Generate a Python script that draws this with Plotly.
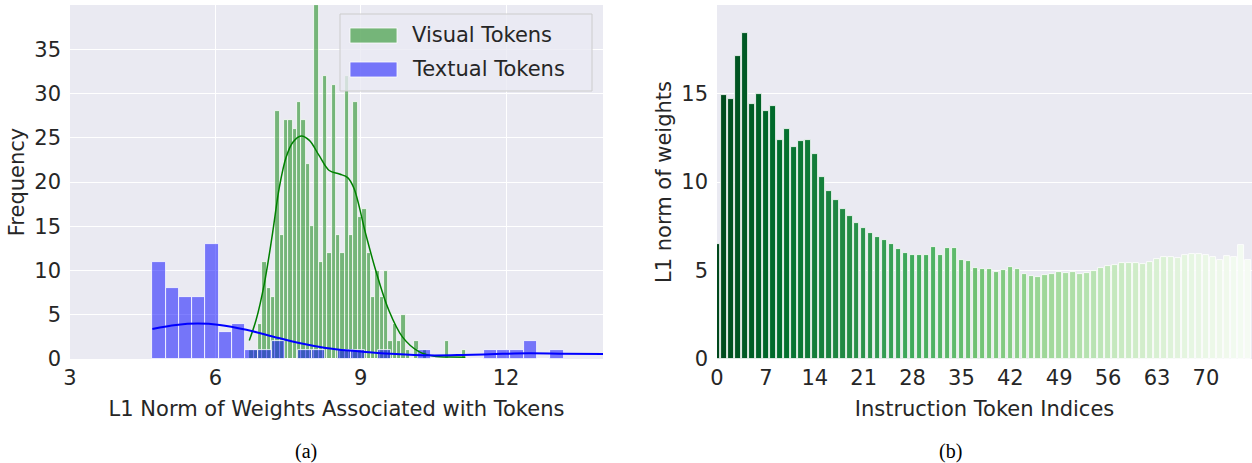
import numpy as np
import plotly.graph_objects as go
from plotly.colors import sample_colorscale, sequential

# ---- (a) histogram of L1 norms: visual vs textual tokens ----
VIS_BIN_START = 6.70
VIS_BIN_WIDTH = 0.0896
VIS_COUNTS = [1, 1, 4, 11, 8, 7, 28, 14, 27, 27,
              26, 29, 27, 22, 15, 40, 11, 32, 12, 31,
              14, 12, 32, 14, 29, 16, 17, 12, 7, 10,
              7, 10, 2, 4, 2, 5, 1, 0, 2, 0,
              1, 0, 0, 0, 0, 2, 0, 0, 0, 1]

TXT_BIN_START = 4.70
TXT_BIN_WIDTH = 0.2737
TXT_COUNTS = [11, 8, 7, 7, 13, 3, 4, 1, 1, 2,
              0, 1, 1, 0, 1, 1, 0, 1, 0, 0,
              1, 0, 0, 0, 0, 1, 1, 1, 2, 0, 1]

# kde curves (scaled to counts)
VIS_KDE_X = [6.70, 6.84, 7.01, 7.18, 7.32, 7.46, 7.60, 7.77, 7.94, 8.14, 8.35,
             8.56, 8.73, 8.86, 9.10, 9.31, 9.58, 9.86, 10.20, 10.55, 10.85, 11.16]
VIS_KDE_Y = [2.1, 4.4, 8.5, 14.2, 19.4, 22.8, 24.5, 25.2, 24.7, 23.0, 21.3,
             20.9, 20.5, 19.3, 14.2, 10.0, 5.5, 2.5, 0.83, 0.27, 0.22, 0.19]
TXT_KDE_X = [4.70, 5.19, 5.64, 6.09, 6.64, 7.18, 7.73, 8.28, 8.76, 9.04,
             9.72, 10.41, 11.09, 11.78, 12.47, 13.15, 14.0]
TXT_KDE_Y = [3.4, 3.85, 4.0, 3.85, 3.3, 2.55, 1.8, 1.25, 0.95, 0.83,
             0.56, 0.41, 0.45, 0.56, 0.64, 0.6, 0.56]

# ---- (b) L1 norm per instruction token ----
TOKEN_NORMS = [6.5, 14.9, 14.7, 17.1, 18.4, 14.4, 15.0, 14.0, 14.3, 12.4,
               13.0, 12.0, 12.3, 12.4, 11.6, 10.3, 9.5, 9.0, 8.5, 8.1,
               7.7, 7.4, 7.1, 6.9, 6.7, 6.5, 6.2, 6.0, 5.9, 5.9,
               5.9, 6.3, 5.85, 6.25, 6.25, 5.6, 5.55, 5.13, 5.06, 5.08,
               4.92, 5.04, 5.21, 5.11, 4.83, 4.70, 4.66, 4.74, 4.83, 4.89,
               4.85, 4.92, 4.83, 4.87, 5.0, 5.15, 5.28, 5.32, 5.40, 5.40,
               5.40, 5.36, 5.47, 5.66, 5.79, 5.79, 5.72, 5.85, 5.96, 5.96,
               5.89, 5.75, 5.57, 5.81, 5.79, 6.43, 5.58]

FONT = "DejaVu Sans"
TXT_COLOR = "#262626"
BG = "#EAEAF2"
GREEN_FILL = "rgba(0,128,0,0.5)"
BLUE_FILL = "rgba(0,0,255,0.5)"

W, H = 1252, 463
ML, MR, MT, MB = 70, 0, 5, 104
PW, PH = W - ML - MR, H - MT - MB


def px(x):
    return (x - ML) / PW


def py(y):
    return (H - MB - y) / PH


fig = go.Figure()

vis_x = VIS_BIN_START + VIS_BIN_WIDTH * (np.arange(len(VIS_COUNTS)) + 0.5)
txt_x = TXT_BIN_START + TXT_BIN_WIDTH * (np.arange(len(TXT_COUNTS)) + 0.5)

fig.add_trace(go.Bar(x=vis_x, y=VIS_COUNTS, width=VIS_BIN_WIDTH,
                     marker=dict(color=GREEN_FILL, line=dict(color="white", width=0.8)),
                     showlegend=False, xaxis="x", yaxis="y"))
fig.add_trace(go.Bar(x=txt_x, y=TXT_COUNTS, width=TXT_BIN_WIDTH,
                     marker=dict(color=BLUE_FILL, line=dict(color="white", width=0.8)),
                     showlegend=False, xaxis="x", yaxis="y"))
fig.add_trace(go.Scatter(x=VIS_KDE_X, y=VIS_KDE_Y, mode="lines",
                         line=dict(color="green", width=1.5, shape="spline"),
                         showlegend=False, xaxis="x", yaxis="y"))
fig.add_trace(go.Scatter(x=TXT_KDE_X, y=TXT_KDE_Y, mode="lines",
                         line=dict(color="blue", width=2, shape="spline"),
                         showlegend=False, xaxis="x", yaxis="y"))

n = len(TOKEN_NORMS)
pos = list(np.linspace(0, 1, n + 2)[1:-1])
bar_colors = sample_colorscale(sequential.Greens_r, pos)
fig.add_trace(go.Bar(x=list(range(n)), y=TOKEN_NORMS, width=0.8,
                     marker=dict(color=bar_colors, line=dict(color="white", width=0.8)),
                     showlegend=False, xaxis="x2", yaxis="y2"))

axis_common = dict(showline=False, zeroline=False, ticks="", gridcolor="white",
                   gridwidth=1, automargin=False,
                   tickfont=dict(size=21, color=TXT_COLOR, family=FONT))
title_font = dict(size=21, color=TXT_COLOR, family=FONT)

fig.update_layout(
    width=W, height=H,
    margin=dict(l=ML, r=MR, t=MT, b=MB),
    paper_bgcolor="white", plot_bgcolor=BG,
    barmode="overlay", bargap=0,
    font=dict(family=FONT, color=TXT_COLOR),
    xaxis=dict(domain=[0, px(603)], range=[3, 14], tickvals=[3, 6, 9, 12],
               anchor="y", showgrid=True, ticklabelstandoff=4,
               title=dict(text="L1 Norm of Weights Associated with Tokens",
                          font=title_font, standoff=12),
               **axis_common),
    yaxis=dict(domain=[0, 1], range=[0, 40], tickvals=list(range(0, 40, 5)),
               anchor="x", showgrid=True, ticklabelstandoff=8,
               title=dict(text="Frequency", font=title_font, standoff=3),
               **axis_common),
    xaxis2=dict(domain=[px(717), 1], range=[0, 76.6], tickvals=list(range(0, 71, 7)),
                anchor="y2", showgrid=False, ticklabelstandoff=4,
                title=dict(text="Instruction Token Indices", font=title_font, standoff=12),
                **axis_common),
    yaxis2=dict(domain=[0, 1], range=[0, 20], tickvals=[0, 5, 10, 15],
                anchor="x2", showgrid=True, ticklabelstandoff=8,
                title=dict(text="L1 norm of weights", font=title_font, standoff=3),
                **axis_common),
)

# legend drawn by hand (matplotlib-style wide patches)
fig.add_shape(type="rect", xref="paper", yref="paper",
              x0=px(340), x1=px(592), y0=py(91), y1=py(14),
              fillcolor="rgba(234,234,242,0.8)", line=dict(color="#cccccc", width=1),
              layer="above")
for (label, color, ytop) in [("Visual Tokens", GREEN_FILL, 28), ("Textual Tokens", BLUE_FILL, 62)]:
    fig.add_shape(type="rect", xref="paper", yref="paper",
                  x0=px(350), x1=px(397), y0=py(ytop + 15), y1=py(ytop),
                  fillcolor=color, line=dict(color="white", width=0.8), layer="above")
    fig.add_annotation(x=px(410), y=py(ytop + 7.5), xref="paper", yref="paper",
                       text=label, showarrow=False, xanchor="left", yanchor="middle",
                       font=dict(size=21, color=TXT_COLOR, family=FONT))

for text, x in [("(a)", 306), ("(b)", 950)]:
    fig.add_annotation(x=px(x), y=py(451), xref="paper", yref="paper", text=text,
                       showarrow=False, xanchor="center", yanchor="middle",
                       font=dict(size=20, color="black", family="Liberation Serif"))

# page body has a default margin; drop it so the figure sits at the window origin
fig.write_html("out.html", config={"displayModeBar": False},
               post_script="document.body.style.margin='0';")
